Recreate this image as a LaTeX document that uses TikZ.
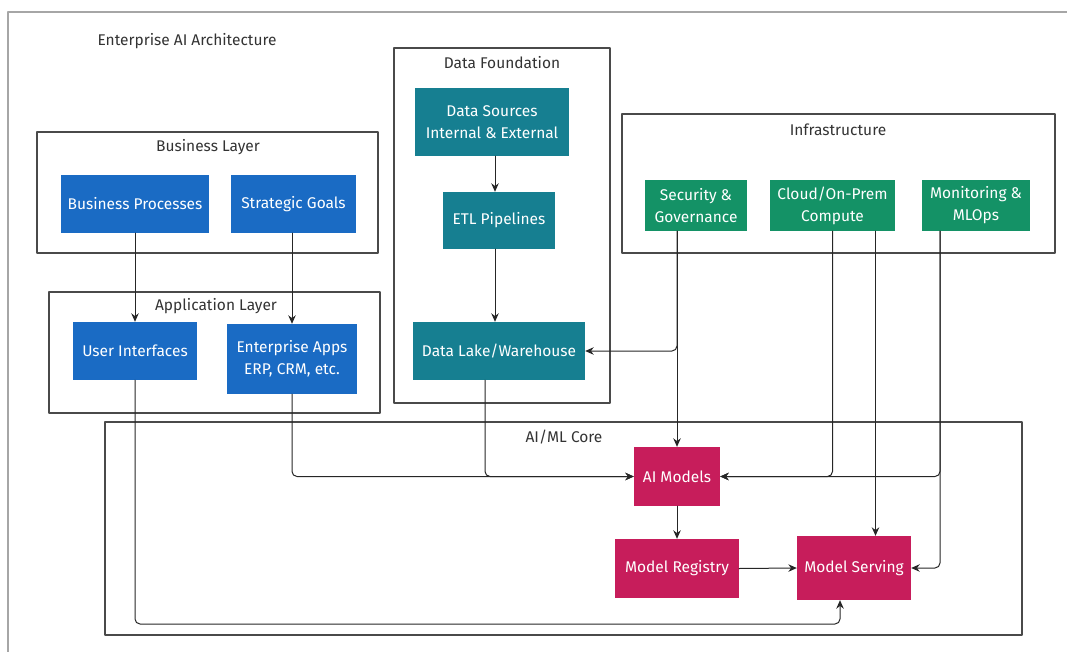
\documentclass[tikz,border=0pt]{standalone}
\usepackage{fontspec}
\setmainfont{Fira Sans}
\usetikzlibrary{arrows.meta}
\definecolor{bizblue}{HTML}{1A6BC4}
\definecolor{datateal}{HTML}{167F91}
\definecolor{infragreen}{HTML}{149266}
\definecolor{corepink}{HTML}{C71D5B}
\definecolor{framegrey}{HTML}{4A4A4A}
\begin{document}
\begin{tikzpicture}[x=1pt,y=-1pt,line cap=round,line join=round,>={Stealth[length=8.5pt,width=7.5pt]},
	outer/.style={draw=black!35,line width=1.4pt},
	layer/.style={draw=framegrey,line width=1.1pt},
	layertitle/.style={text=black!80,font=\fontsize{15.5}{18}\selectfont},
	box/.style={rectangle,text=white,align=center,inner sep=2pt,font=\fontsize{15.5}{22}\selectfont},
	biz/.style={box,fill=bizblue},
	data/.style={box,fill=datateal},
	infra/.style={box,fill=infragreen},
	core/.style={box,fill=corepink},
	link/.style={->,draw=black!85,line width=1pt,rounded corners=5pt}]
	\clip (0,0) rectangle (1067,652);
	\draw[outer] (1067,12) -- (8,12) -- (8,652);
	\node[anchor=west,layertitle] (ttl) at (94,41) {Enterprise AI Architecture};
	% layers
	\draw[layer] (37,132) rectangle (378,253);
	\node[layertitle] (bizttl) at (208,147) {Business Layer};
	\draw[layer] (49,292) rectangle (380,413);
	\node[layertitle] (appttl) at (216,306) {Application Layer};
	\draw[layer] (394,48) rectangle (610,403);
	\node[layertitle] (datattl) at (502,63) {Data Foundation};
	\draw[layer] (622,114) rectangle (1055,253);
	\node[layertitle] (infttl) at (838,130) {Infrastructure};
	\draw[layer] (105,422) rectangle (1022,635);
	\node[layertitle] (corettl) at (564,437) {AI/ML Core};
	% boxes
	\node[biz,minimum width=148pt,minimum height=58pt] (bp) at (135,204) {Business Processes};
	\node[biz,minimum width=125pt,minimum height=58pt] (sg) at (293.5,204) {Strategic Goals};
	\node[biz,minimum width=124pt,minimum height=58pt] (ui) at (135,351) {User Interfaces};
	\node[biz,minimum width=130pt,minimum height=70pt] (ea) at (292,359) {Enterprise Apps\\ERP, CRM, etc.};
	\node[data,minimum width=154pt,minimum height=68pt] (ds) at (492,122) {Data Sources\\Internal \& External};
	\node[data,minimum width=112pt,minimum height=57pt] (etl) at (499,220.5) {ETL Pipelines};
	\node[data,minimum width=172pt,minimum height=58pt] (dl) at (499,351) {Data Lake/Warehouse};
	\node[infra,minimum width=102pt,minimum height=51pt] (sec) at (696,205.5) {Security \&\\Governance};
	\node[infra,minimum width=125pt,minimum height=51pt] (cld) at (832.5,205.5) {Cloud/On-Prem\\Compute};
	\node[infra,minimum width=108pt,minimum height=51pt] (mon) at (976,205.5) {Monitoring \&\\MLOps};
	\node[core,minimum width=86pt,minimum height=59pt] (aim) at (677,476.5) {AI Models};
	\node[core,minimum width=124pt,minimum height=59pt] (reg) at (677,568.5) {Model Registry};
	\node[core,minimum width=114pt,minimum height=64pt] (srv) at (854,568) {Model Serving};
	% connectors
	\coordinate (secdn) at (sec.south -| aim.north);
	\coordinate (cldr) at ([xshift=43pt]cld.south);
	\coordinate (monl) at ([xshift=-36pt]mon.south);
	\draw[link] (bp.south) -- (ui.north);
	\draw[link] (sg.south -| ea.north) -- (ea.north);
	\draw[link] ([xshift=-4pt]etl.north |- ds.south) -- ([xshift=-4pt]etl.north);
	\draw[link] ([xshift=-4pt]etl.south) -- ([xshift=-4pt]dl.north);
	\draw[link] (secdn) |- (dl.east);
	\draw[link] (secdn) -- (aim.north);
	\draw[link] (ea.south) |- (aim.west);
	\draw[link] ([xshift=-14pt]dl.south) |- (aim.west);
	\draw[link] (cld.south) |- (aim.east);
	\draw[link] (monl) |- (aim.east);
	\draw[link] (cldr) -- (cldr |- srv.north);
	\draw[link] (monl) |- (srv.east);
	\draw[link] (aim.south) -- (reg.north);
	\draw[link] (reg.east) -- (srv.west);
	\draw[link] (ui.south) -- (ui.south |- 0,624) -| ([xshift=-14pt]srv.south);
\end{tikzpicture}
\end{document}
